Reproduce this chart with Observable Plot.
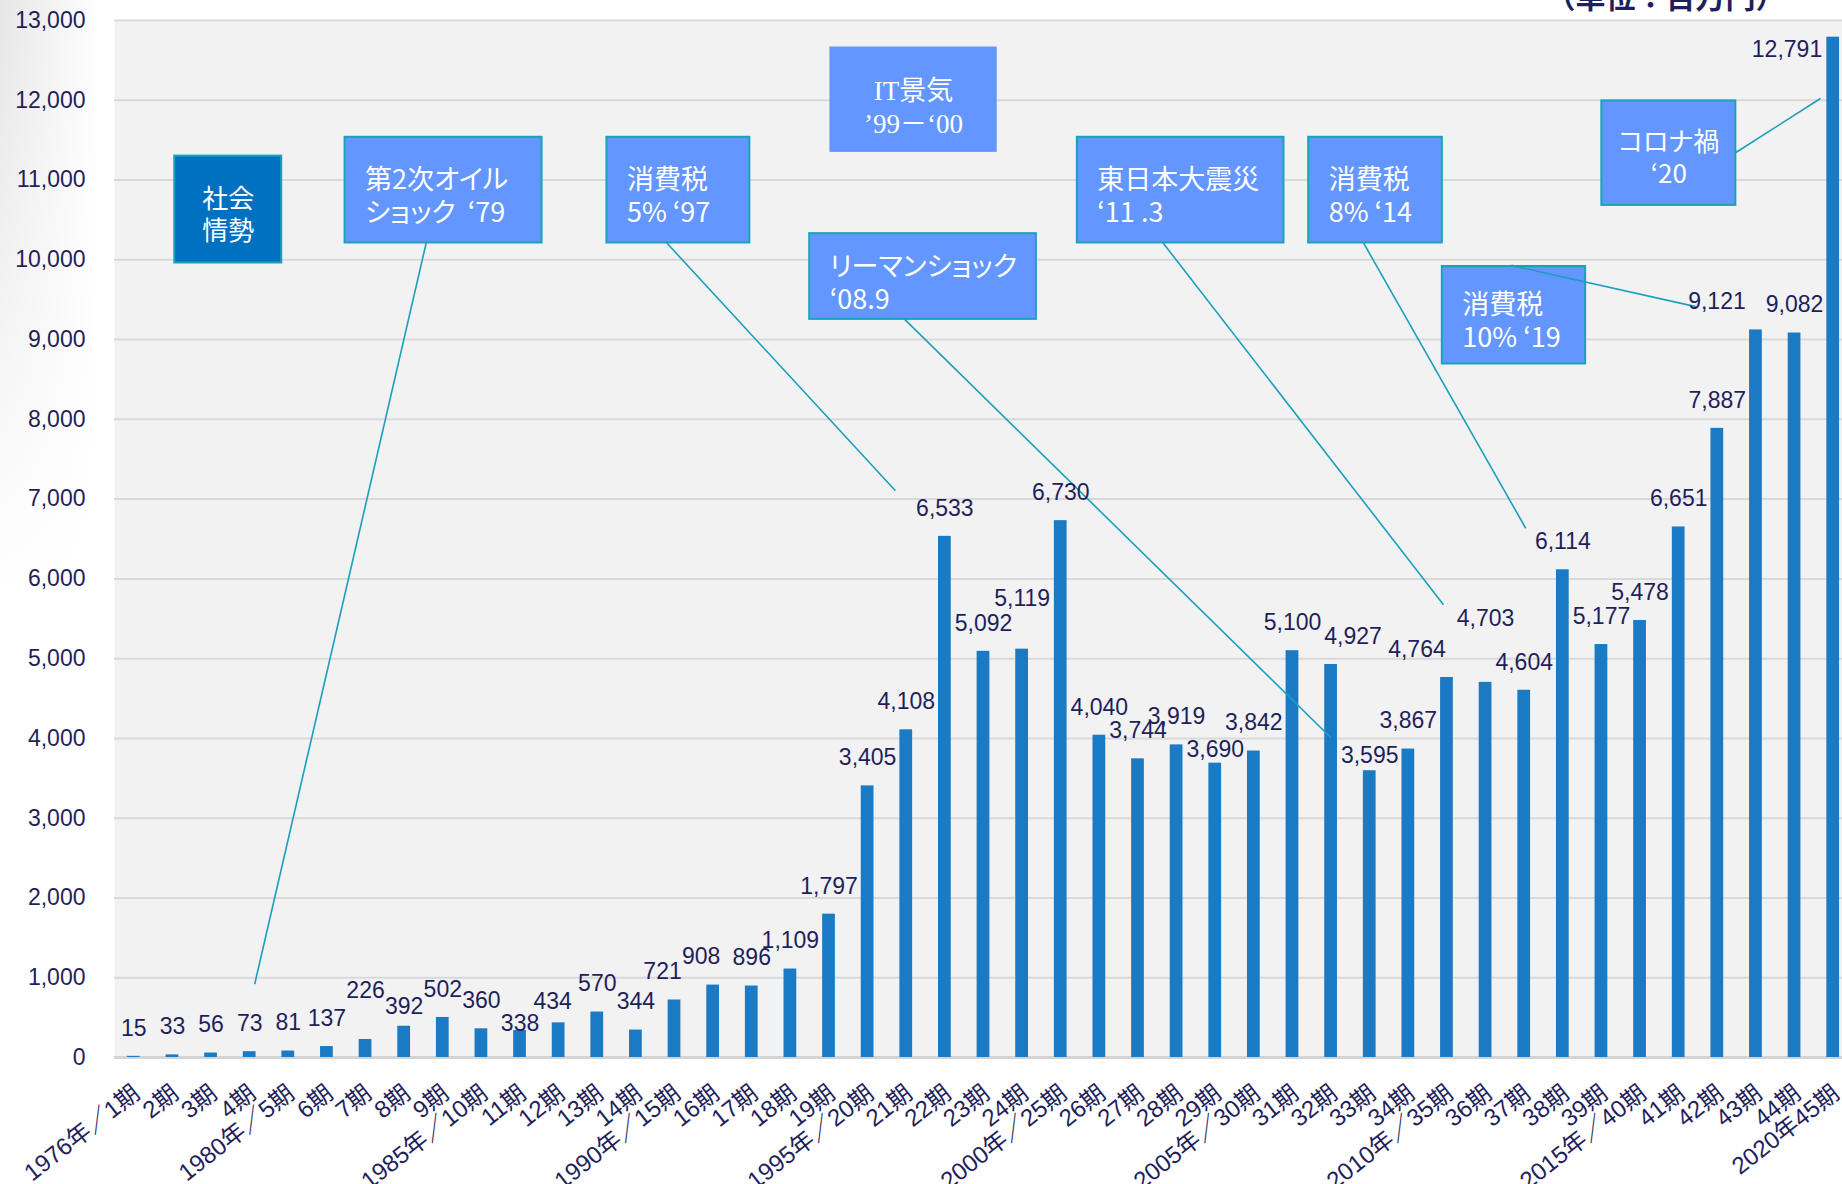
<!DOCTYPE html>
<html><head><meta charset="utf-8">
<script src="https://cdn.jsdelivr.net/npm/d3@7"></script>
<script src="https://cdn.jsdelivr.net/npm/@observablehq/plot@0.6"></script>
<style>
html,body{margin:0;padding:0;}
body{background:linear-gradient(to bottom, rgba(255,255,255,0) 0, #fff 50%), linear-gradient(to right, #e6e6e6 0, #fff 100px);}
#chart g[font-family="Noto Sans CJK JP, sans-serif"] text{font-feature-settings:"palt";}
</style></head><body><div id="chart"></div><script>
const categories = ["1976年／1期","2期","3期","4期","1980年／5期","6期","7期","8期","9期","1985年／10期","11期","12期","13期","14期","1990年／15期","16期","17期","18期","19期","1995年／20期","21期","22期","23期","24期","2000年／25期","26期","27期","28期","29期","2005年／30期","31期","32期","33期","34期","2010年／35期","36期","37期","38期","39期","2015年／40期","41期","42期","43期","44期","2020年45期"];
const sales = [15,33,56,73,81,137,226,392,502,360,338,434,570,344,721,908,896,1109,1797,3405,4108,6533,5092,5119,6730,4040,3744,3919,3690,3842,5100,4927,3595,3867,4764,4703,4604,6114,5177,5478,6651,7887,9121,9082,12791];
const yTicks = d3.range(0, 13001, 1000);
const unitLabel = "（単位：百万円）";
// annotation boxes in data units (x = period index, y = sales value)
const boxTexts = ["社会\n情勢","第2次オイル\nショック  ‘79","消費税\n5% ‘97","IT景気\n’99－‘00","リーマンショック\n‘08.9","東日本大震災\n‘11 .3","消費税\n8% ‘14","消費税\n10% ‘19","コロナ禍\n‘20"];
const boxX = [[2.06,4.83],[6.47,11.57],[13.25,16.95],[19.05,23.33],[18.50,24.37],[25.43,30.78],[31.42,34.88],[34.88,38.59],[39.01,42.48]];
const boxY = [[9960,11300],[10211,11536],[10211,11536],[11359,12655],[9253,10328],[10211,11536],[10211,11536],[8694,9916],[10682,11992]];
const boxKind = ["dark","light","light","it","light","light","light","light","light"];
const boxAlign = ["middle","start","start","middle","start","start","start","start","middle"];
// leader lines in data units
const leaderFrom = [[8.57,10211],[14.80,10211],[20.96,9253],[27.65,10211],[32.84,10211],[36.67,9930],[42.48,11345]];
const leaderTo = [[4.13,920],[20.72,7104],[31.99,4012],[34.91,5676],[37.04,6634],[41.44,9413],[44.67,12022]];

const navy = "#1f1f5c";
const fmt = d3.format(",");
const data = sales.map((v, k) => ({i: k + 1, v, label: categories[k]}));
const boxes = boxTexts.map((t, k) => ({text: t, x1: boxX[k][0], x2: boxX[k][1], y1: boxY[k][0], y2: boxY[k][1], kind: boxKind[k], align: boxAlign[k]}));
const leaders = leaderFrom.map((f, k) => ({x1: f[0], y1: f[1], x2: leaderTo[k][0], y2: leaderTo[k][1]}));

const nudges = {7:[0,-21],8:[0,8],11:[0,21],12:[-6,7],15:[-12,0],16:[-12,0],24:[0,-23],29:[0,14],32:[22,0],33:[0,13],35:[-30,0],36:[0,-36],43:[-39,0]};
const numFont = "Liberation Sans, Arial, sans-serif";
const labelFont = "Liberation Sans, Arial, Noto Sans CJK JP, sans-serif";
const boxFont = "Noto Sans CJK JP, sans-serif";
const lblSize = 23;
const std = data.filter(d => !(d.i in nudges) && d.i !== 45);
const labelMarks = [
  Plot.text(std, {x: "i", y: "v", text: d => fmt(d.v), dy: -28, lineAnchor: "middle", fontSize: lblSize, fill: navy, fontFamily: numFont}),
  ...Object.entries(nudges).map(([k, [dx, dy]]) => Plot.text(data.filter(d => d.i === +k), {x: "i", y: "v", text: d => fmt(d.v), dx, dy: -28 + dy, lineAnchor: "middle", fontSize: lblSize, fill: navy, fontFamily: numFont})),
  Plot.text(data.filter(d => d.i === 45), {x: "i", y: "v", text: d => fmt(d.v), dx: -11, dy: 12, textAnchor: "end", lineAnchor: "middle", fontSize: lblSize, fill: navy, fontFamily: numFont})
];

const chart = Plot.plot({
  width: 1842, height: 1184,
  marginLeft: 114, marginRight: 0, marginTop: 20, marginBottom: 127,
  style: {background: "transparent", fontFamily: labelFont},
  x: {type: "linear", domain: [0.5, 45.5], range: [114, 1852], axis: null},
  y: {domain: [0, 13000], axis: null},
  marks: [
    Plot.frame({fill: "#f2f2f2", stroke: null}),
    Plot.gridY(yTicks, {stroke: "#d9d9d9", strokeWidth: 2, strokeOpacity: 1}),
    Plot.ruleY([0], {stroke: "#d4d4d4", strokeWidth: 3}),
    Plot.rectY(data, {x1: d => d.i - 0.165, x2: d => d.i + 0.165, y1: 0, y2: "v", fill: "#1a7bc4"}),
    Plot.rect(boxes, {x1: "x1", x2: "x2", y1: "y1", y2: "y2", fill: d => d.kind === "dark" ? "#0070c0" : "#6496ff", stroke: d => d.kind === "it" ? "#6496ff" : "#1aa3b8", strokeWidth: 2}),
    Plot.link(leaders, {x1: "x1", y1: "y1", x2: "x2", y2: "y2", stroke: "#1a9fbd", strokeWidth: 1.6}),
    Plot.text(boxes.filter(b => b.align === "start"), {x: "x1", y: d => (d.y1 + d.y2) / 2, text: "text", dx: 20, dy: 5, textAnchor: "start", lineAnchor: "middle", lineHeight: 1.22, fontSize: 27, fill: "white", fontFamily: boxFont}),
    Plot.text(boxes.filter(b => b.align === "middle" && b.kind !== "it"), {x: d => (d.x1 + d.x2) / 2, y: d => (d.y1 + d.y2) / 2, text: "text", dy: 4, textAnchor: "middle", lineAnchor: "middle", lineHeight: 1.22, fontSize: 26, fill: "white", fontFamily: boxFont}),
    Plot.text(boxes.filter(b => b.kind === "it"), {x: d => (d.x1 + d.x2) / 2, y: d => (d.y1 + d.y2) / 2, text: "text", dy: 6, textAnchor: "middle", lineAnchor: "middle", lineHeight: 1.22, fontSize: 27, fill: "white", fontFamily: "Liberation Serif, Noto Sans CJK JP, serif"}),
    ...labelMarks,
    Plot.axisY({ticks: yTicks, tickFormat: d3.format(","), tickSize: 0, tickPadding: 29, fontSize: 23, color: navy, label: null, fontFamily: numFont}),
    Plot.text(data, {x: "i", text: "label", frameAnchor: "bottom", dy: 33, dx: 3, rotate: -38, textAnchor: "end", lineAnchor: "middle", fontSize: 24, fill: navy, fontFamily: labelFont}),
    Plot.text([unitLabel], {frameAnchor: "top-right", dx: -57, dy: -13, lineAnchor: "bottom", textAnchor: "end", fontSize: 30, fontWeight: "bold", fill: navy, fontFamily: "Noto Sans CJK JP"})
  ]
});
document.getElementById("chart").append(chart);
</script></body></html>
